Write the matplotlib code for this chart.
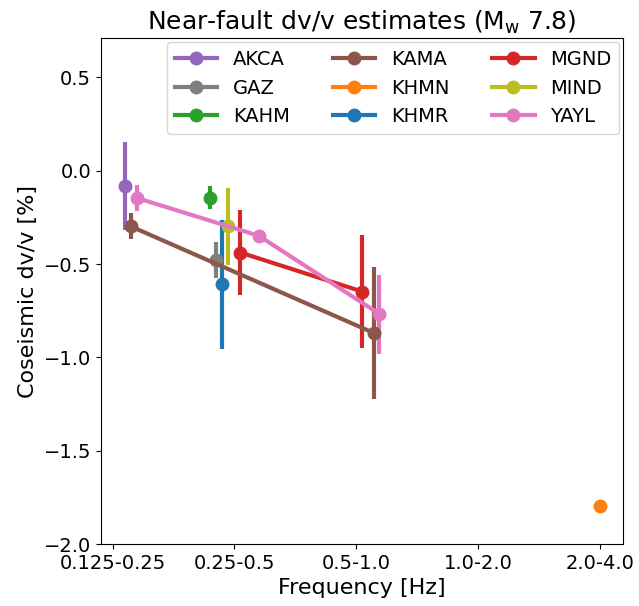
import matplotlib
matplotlib.use("Agg")
import matplotlib.pyplot as plt
from matplotlib.lines import Line2D

# frequency bands (tick positions 0..4)
bands = ["0.125-0.25", "0.25-0.5", "0.5-1.0", "1.0-2.0", "2.0-4.0"]

stations = ["AKCA", "GAZ", "KAHM", "KAMA", "KHMN", "KHMR", "MGND", "MIND", "YAYL"]
colors = ["tab:purple", "tab:gray", "tab:green", "tab:brown", "tab:orange",
          "tab:blue", "tab:red", "tab:olive", "tab:pink"]

# x position (band index + small station offset), dv/v [%], lower / upper bounds
xpos = [[0.10], [0.85], [0.80], [0.15, 2.15], [4.0], [0.90], [1.05, 2.05], [0.95], [0.20, 1.20, 2.19]]
dvv = [[-0.084], [-0.477], [-0.146], [-0.298, -0.870], [-1.794], [-0.607],
       [-0.438, -0.647], [-0.298], [-0.146, -0.348, -0.766]]
lo = [[-0.320], [-0.573], [-0.204], [-0.364, -1.222], [-1.800], [-0.954],
      [-0.665, -0.949], [-0.504], [-0.214, -0.378, -0.981]]
hi = [[0.152], [-0.379], [-0.084], [-0.225, -0.513], [-1.788], [-0.263],
      [-0.209, -0.343], [-0.090], [-0.075, -0.318, -0.557]]

plt.rcParams["font.size"] = 14
fig = plt.figure(figsize=(6.39, 6.06), dpi=100)
ax = fig.add_axes([0.158, 0.102, 0.8175, 0.835])

handles = []
for name, c, x, y, l, h in zip(stations, colors, xpos, dvv, lo, hi):
    yerr = [[v - a for v, a in zip(y, l)], [b - v for v, b in zip(y, h)]]
    ax.errorbar(x, y, yerr=yerr, color=c, lw=3, elinewidth=3, marker="o",
                ms=9, capsize=0)
    handles.append(Line2D([], [], color=c, lw=3, marker="o", ms=9, label=name))

ax.set_xticks(range(len(bands)))
ax.set_xticklabels(bands)
ax.set_ylim(-2.0, 0.71)
ax.set_xlabel("Frequency [Hz]", fontsize=16)
ax.set_ylabel("Coseismic dv/v [%]", fontsize=16)
ax.set_title(r"Near-fault dv/v estimates (M$_{\rm w}$ 7.8)", fontsize=18)
ax.legend(handles=handles, ncol=3, loc="upper right", fontsize=14,
          handlelength=2.2, columnspacing=2.2, borderaxespad=0.2)

fig.savefig("out.png", dpi=100)
